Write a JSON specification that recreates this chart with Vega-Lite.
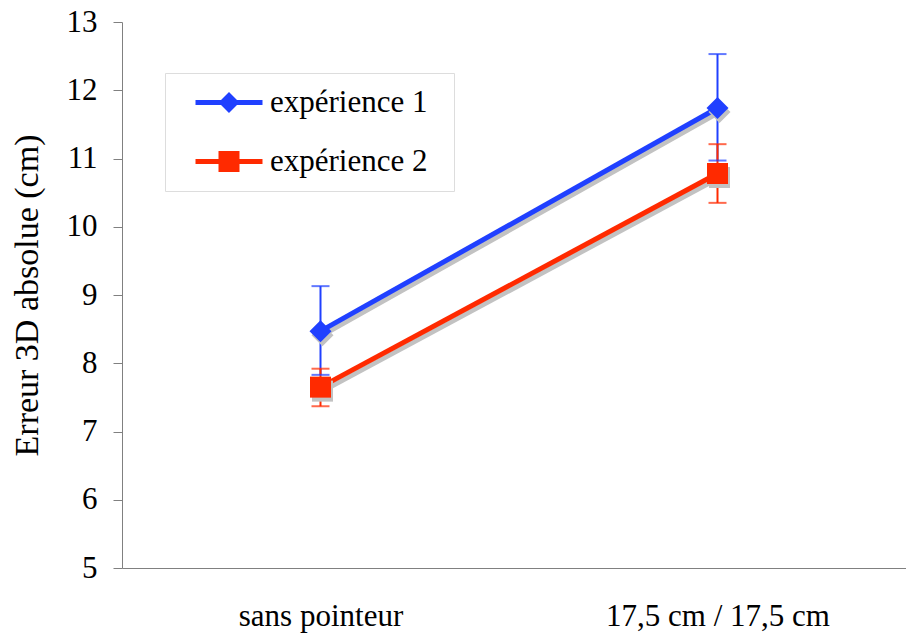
{
  "$schema": "https://vega.github.io/schema/vega-lite/v6.json",
  "width": 794,
  "height": 546,
  "autosize": {"type": "none"},
  "padding": {"left": 122, "top": 22, "right": 0, "bottom": 74},
  "background": "white",
  "config": {
    "font": "Liberation Serif",
    "view": {"stroke": null},
    "axis": {
      "labelFont": "Liberation Serif",
      "titleFont": "Liberation Serif",
      "labelColor": "black",
      "titleColor": "black",
      "grid": false,
      "domainColor": "#808080",
      "tickColor": "#808080",
      "labelFontSize": 31,
      "labelLimit": 500,
      "titleFontWeight": "normal"
    },
    "legend": {"labelFont": "Liberation Serif"}
  },
  "data": {
    "values": [
      {"cond": "sans pointeur", "serie": "expérience 1", "mean": 8.47, "lo": 7.83, "hi": 9.13},
      {"cond": "17,5 cm / 17,5 cm", "serie": "expérience 1", "mean": 11.74, "lo": 10.97, "hi": 12.53},
      {"cond": "sans pointeur", "serie": "expérience 2", "mean": 7.65, "lo": 7.37, "hi": 7.92},
      {"cond": "17,5 cm / 17,5 cm", "serie": "expérience 2", "mean": 10.78, "lo": 10.35, "hi": 11.21}
    ]
  },
  "encoding": {
    "x": {
      "field": "cond",
      "type": "nominal",
      "sort": ["sans pointeur", "17,5 cm / 17,5 cm"],
      "scale": {"type": "point", "padding": 0.5},
      "axis": {"title": null, "labelAngle": 0, "ticks": false, "tickSize": 0, "labelPadding": 33}
    }
  },
  "resolve": {"scale": {"shape": "independent", "color": "independent", "size": "independent"}},
  "layer": [
    {
      "mark": {"type": "line", "color": "#c2c2c2", "strokeWidth": 5, "xOffset": 2, "yOffset": 4},
      "encoding": {
        "y": {"field": "mean", "type": "quantitative", "scale": {"domain": [5, 13], "nice": false, "zero": false},
          "axis": {"values": [5, 6, 7, 8, 9, 10, 11, 12, 13], "format": "d", "tickSize": 9, "labelPadding": 16, "title": "Erreur 3D absolue (cm)", "titleFontSize": 34, "titlePadding": 22}},
        "detail": {"field": "serie"}
      }
    },
    {
      "layer": [
        {
          "mark": {"type": "line", "strokeWidth": 5},
          "encoding": {
            "y": {"field": "mean", "type": "quantitative"},
            "color": {"field": "serie", "type": "nominal", "scale": {"domain": ["expérience 1", "expérience 2"], "range": ["#2040ff", "#ff2a00"]}, "legend": null}
          }
        },
        {
          "mark": {"type": "rule", "strokeWidth": 2},
          "encoding": {
            "y": {"field": "lo", "type": "quantitative"},
            "y2": {"field": "hi"},
            "color": {"field": "serie", "type": "nominal", "legend": null}
          }
        },
        {
          "mark": {"type": "tick", "thickness": 2, "size": 18},
          "encoding": {
            "y": {"field": "lo", "type": "quantitative"},
            "color": {"field": "serie", "type": "nominal", "legend": null}
          }
        },
        {
          "mark": {"type": "tick", "thickness": 2, "size": 18},
          "encoding": {
            "y": {"field": "hi", "type": "quantitative"},
            "color": {"field": "serie", "type": "nominal", "legend": null}
          }
        }
      ]
    },
    {
      "mark": {"type": "point", "filled": true, "opacity": 1, "color": "#c2c2c2", "xOffset": 2, "yOffset": 4},
      "encoding": {
        "y": {"field": "mean", "type": "quantitative"},
        "shape": {"field": "serie", "type": "nominal", "scale": {"domain": ["expérience 1", "expérience 2"], "range": ["diamond", "square"]}, "legend": null},
        "size": {"field": "serie", "type": "nominal", "scale": {"domain": ["expérience 1", "expérience 2"], "range": [484, 441]}, "legend": null}
      }
    },
    {
      "mark": {"type": "point", "filled": true, "opacity": 1},
      "encoding": {
        "y": {"field": "mean", "type": "quantitative"},
        "shape": {"field": "serie", "type": "nominal", "scale": {"domain": ["expérience 1", "expérience 2"], "range": ["diamond", "square"]}, "legend": null},
        "size": {"field": "serie", "type": "nominal", "scale": {"domain": ["expérience 1", "expérience 2"], "range": [484, 441]}, "legend": null},
        "color": {"field": "serie", "type": "nominal", "scale": {"domain": ["expérience 1", "expérience 2"], "range": ["#2040ff", "#ff2a00"]}, "legend": null}
      }
    },
    {
      "mark": {"type": "point", "filled": true, "opacity": 0},
      "encoding": {
        "y": {"field": "mean", "type": "quantitative"},
        "shape": {
          "field": "serie",
          "type": "nominal",
          "scale": {"domain": ["expérience 1", "expérience 2"], "range": [
            "M-3.19,-0.24L-0.76,-0.24L0,-1L0.76,-0.24L3.19,-0.24L3.19,0.24L0.76,0.24L0,1L-0.76,0.24L-3.19,0.24Z",
            "M-3.19,-0.24L-1,-0.24L-1,-1L1,-1L1,-0.24L3.19,-0.24L3.19,0.24L1,0.24L1,1L-1,1L-1,0.24L-3.19,0.24Z"
          ]},
          "legend": {
            "orient": "none",
            "legendX": 43,
            "legendY": 51,
            "title": "\u00a0",
            "titleOrient": "right",
            "titlePadding": 13,
            "titleFontSize": 4,
            "fillColor": "white",
            "strokeColor": "#dddddd",
            "padding": 14,
            "rowPadding": 27,
            "symbolSize": 441,
            "symbolOffset": 34.5,
            "symbolStrokeWidth": 0,
            "symbolOpacity": 1,
            "labelOffset": 25.5,
            "labelFontSize": 31,
            "labelColor": "black",
            "labelLimit": 400
          }
        },
        "color": {
          "field": "serie",
          "type": "nominal",
          "scale": {"domain": ["expérience 1", "expérience 2"], "range": ["#2040ff", "#ff2a00"]},
          "legend": {
            "orient": "none",
            "legendX": 43,
            "legendY": 51,
            "title": "\u00a0",
            "titleOrient": "right",
            "titlePadding": 13,
            "titleFontSize": 4,
            "fillColor": "white",
            "strokeColor": "#dddddd",
            "padding": 14,
            "rowPadding": 27,
            "symbolSize": 441,
            "symbolOffset": 34.5,
            "symbolStrokeWidth": 0,
            "symbolOpacity": 1,
            "labelOffset": 25.5,
            "labelFontSize": 31,
            "labelColor": "black",
            "labelLimit": 400
          }
        }
      }
    }
  ]
}
